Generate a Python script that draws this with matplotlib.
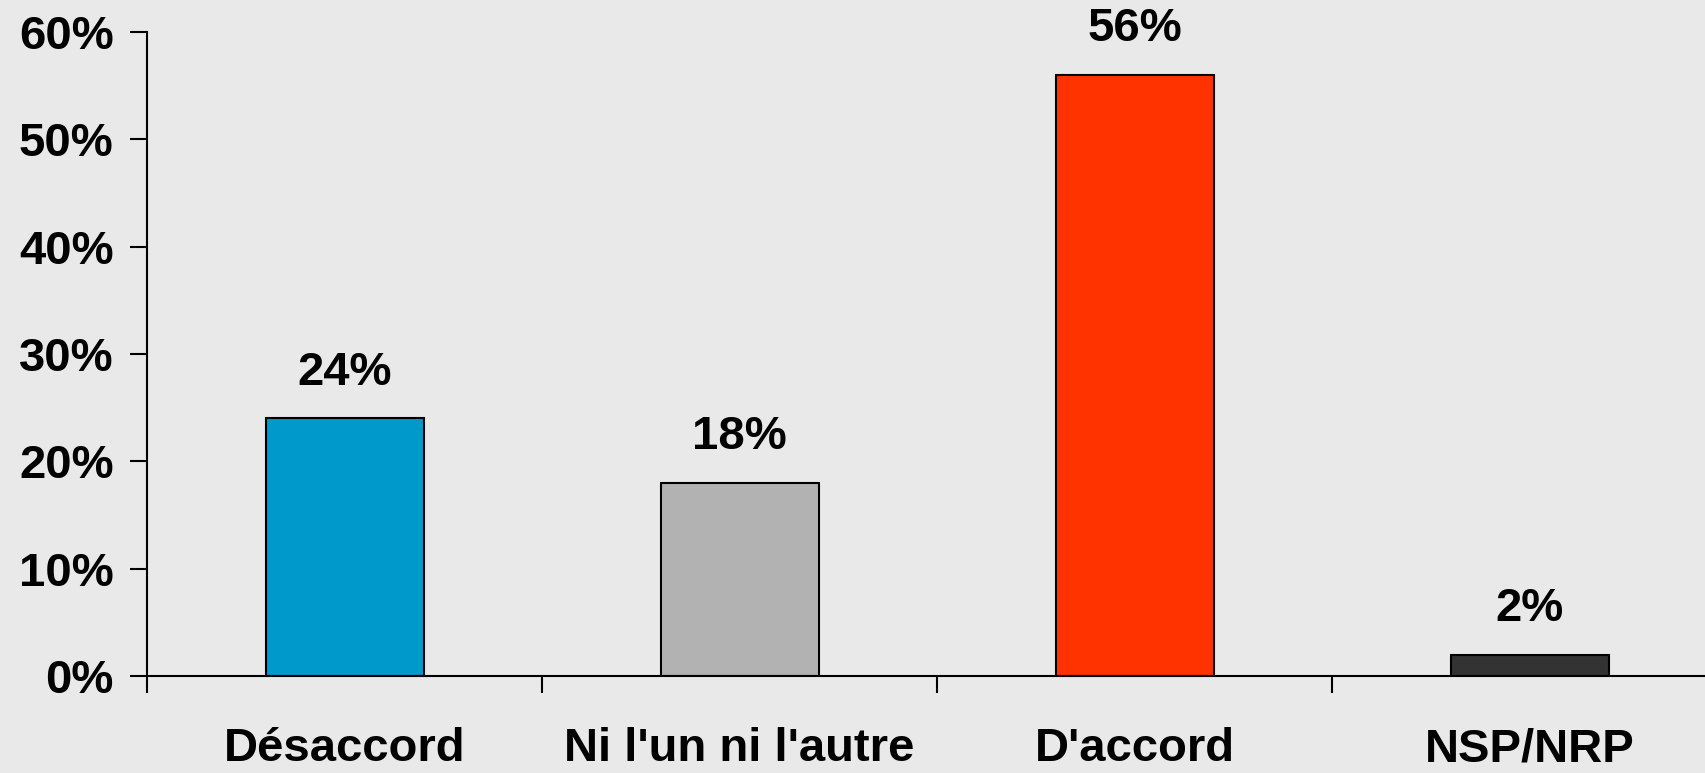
import matplotlib.pyplot as plt
from matplotlib.ticker import FixedLocator, FuncFormatter

categories = ["Désaccord", "Ni l'un ni l'autre", "D'accord", "NSP/NRP"]
values = [24, 18, 56, 2]
colors = ["#0099CC", "#B2B2B2", "#FF3300", "#333333"]
yticks = [0, 10, 20, 30, 40, 50, 60]

plt.rcParams["font.family"] = ["Liberation Sans", "DejaVu Sans"]
plt.rcParams["font.weight"] = "bold"

fig = plt.figure(figsize=(17.05, 7.73), dpi=100, facecolor="#e9e9e9")
# axes goes a bit past the right edge, like the original slide
ax = fig.add_axes([147 / 1705, 97 / 773, 1580 / 1705, 644 / 773])
ax.patch.set_alpha(0)

x = list(range(len(categories)))
bars = ax.bar(x, values, width=0.4, color=colors, edgecolor="black", linewidth=1.5)
for b, v in zip(bars, values):
    ax.annotate(f"{v}%", (b.get_x() + b.get_width() / 2, v), xytext=(0, 17),
                textcoords="offset points", ha="center", va="bottom",
                fontsize=34, fontweight="bold")

ax.set_xlim(-0.5, len(categories) - 0.5)
ax.set_ylim(0, 60)
ax.set_yticks(yticks)
ax.yaxis.set_major_formatter(FuncFormatter(lambda v, p: f"{v:.0f}%"))
ax.set_xticks(x)
ax.set_xticklabels(categories)
ax.xaxis.set_minor_locator(FixedLocator([i - 0.5 for i in x]))

ax.tick_params(axis="x", which="major", length=0, pad=37, labelsize=34)
ax.tick_params(axis="x", which="minor", length=12, width=1.5, direction="out")
ax.tick_params(axis="y", length=12, width=1.5, pad=12, labelsize=34)

for s in ["top", "right"]:
    ax.spines[s].set_visible(False)
ax.spines["left"].set_linewidth(1.5)
ax.spines["bottom"].set_linewidth(1.5)

fig.savefig("out.png", dpi=100, facecolor=fig.get_facecolor())
